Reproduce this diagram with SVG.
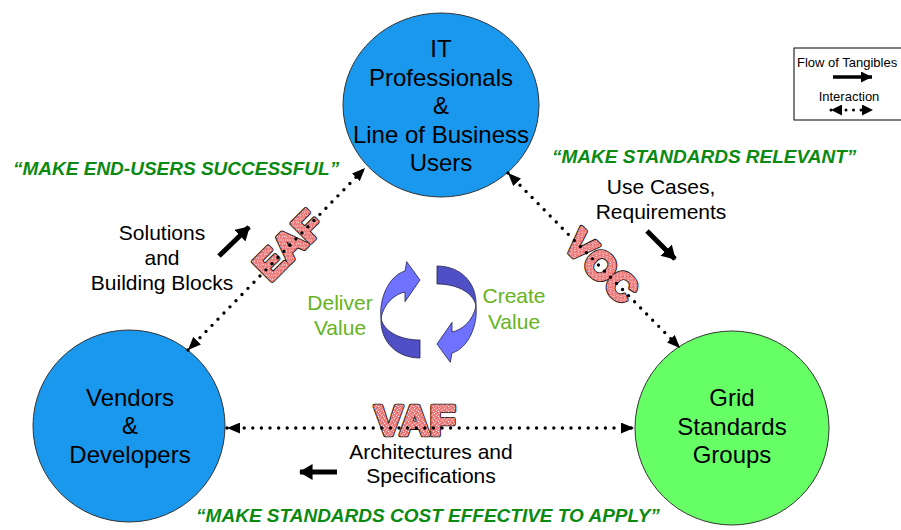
<svg xmlns="http://www.w3.org/2000/svg" width="901" height="530" viewBox="0 0 901 530">
<defs>
<style>
.node{stroke:#333;stroke-width:1}
.nt{font-family:"Liberation Sans",Arial,sans-serif;font-size:24px;fill:#000;text-anchor:middle}
.lbl{font-family:"Liberation Sans",Arial,sans-serif;font-size:21px;fill:#000;text-anchor:middle}
.val{font-family:"Liberation Sans",Arial,sans-serif;font-size:21px;fill:#66b31e;text-anchor:middle}
.quote{font-family:"Liberation Sans",Arial,sans-serif;font-size:19px;font-weight:bold;font-style:italic;fill:#0b8a12}
.bigo{font-family:"Liberation Sans",Arial,sans-serif;font-weight:bold;fill:#111;stroke:#111;stroke-width:4.6;stroke-linejoin:round;text-anchor:middle}
.big{font-family:"Liberation Sans",Arial,sans-serif;font-weight:bold;fill:url(#speck);stroke:url(#speck);stroke-width:2.8;stroke-linejoin:round;text-anchor:middle}
.dot{fill:none;stroke:#000;stroke-width:3.4;stroke-linecap:round;stroke-dasharray:0 8.6}
.flow{fill:none;stroke:#000;stroke-width:5}
.leg{font-family:"Liberation Sans",Arial,sans-serif;font-size:13px;fill:#000}
.cyl{fill:#6f72ff;stroke:#22224a;stroke-width:0.8}
.cyd{fill:#5050c6;stroke:#22224a;stroke-width:0.8}
</style>
<pattern id="speck" width="5" height="5" patternUnits="userSpaceOnUse">
<rect width="5" height="5" fill="#ec7a7a"/>
<rect x="1" y="0" width="1" height="1" fill="#fbd0d0"/>
<rect x="3" y="1" width="1" height="1" fill="#fff"/>
<rect x="0" y="2" width="1" height="1" fill="#f8b8b8"/>
<rect x="4" y="3" width="1" height="1" fill="#fde4e4"/>
<rect x="2" y="4" width="1" height="1" fill="#f9c4c4"/>
<rect x="2" y="2" width="1" height="1" fill="#e26a6a"/>
</pattern>
<marker id="ah" viewBox="0 0 12 10" refX="12" refY="5" markerWidth="13" markerHeight="11" markerUnits="userSpaceOnUse" orient="auto-start-reverse">
<path d="M0,0 L12,5 L0,10 Z" fill="#000"/>
</marker>
<marker id="fh" viewBox="0 0 12 14" refX="11" refY="7" markerWidth="14" markerHeight="16" markerUnits="userSpaceOnUse" orient="auto">
<path d="M0,0 L12,7 L0,14 Z" fill="#000"/>
</marker>
<marker id="lh" viewBox="0 0 10 10" refX="10" refY="5" markerWidth="11" markerHeight="11" markerUnits="userSpaceOnUse" orient="auto-start-reverse">
<path d="M0,0 L10,5 L0,10 Z" fill="#000"/>
</marker>
</defs>
<rect width="901" height="530" fill="#fff"/>

<g id="node-it">
<ellipse class="node" cx="441" cy="105" rx="98" ry="92" fill="#1a98ee"/>
<text class="nt" x="441" y="57">IT</text>
<text class="nt" x="441" y="86">Professionals</text>
<text class="nt" x="441" y="114">&amp;</text>
<text class="nt" x="441" y="143">Line of Business</text>
<text class="nt" x="441" y="171">Users</text>
</g>
<g id="node-vendors">
<circle class="node" cx="129" cy="426" r="96" fill="#1a98ee"/>
<text class="nt" x="130" y="406">Vendors</text>
<text class="nt" x="130" y="434">&amp;</text>
<text class="nt" x="130" y="463">Developers</text>
</g>
<g id="node-grid">
<circle class="node" cx="732" cy="428" r="97" fill="#66ff66"/>
<text class="nt" x="732" y="406">Grid</text>
<text class="nt" x="732" y="435">Standards</text>
<text class="nt" x="732" y="463">Groups</text>
</g>

<g id="framework-labels">
<g transform="translate(288,245) rotate(-45)">
<text class="bigo" font-size="39" x="0" y="14">EAF</text>
<text class="big" font-size="39" x="0" y="14">EAF</text>
</g>
<g transform="translate(602,266) rotate(45)">
<text class="bigo" font-size="39" x="0" y="14">VOC</text>
<text class="big" font-size="39" x="0" y="14">VOC</text>
</g>
<text class="bigo" font-size="42" x="415" y="435">VAF</text>
<text class="big" font-size="42" x="415" y="435">VAF</text>
</g>

<g id="connectors">
<line class="dot" x1="188" y1="350" x2="365" y2="168" marker-start="url(#ah)" marker-end="url(#ah)"/>
<line class="dot" x1="508" y1="173" x2="680" y2="348" marker-start="url(#ah)" marker-end="url(#ah)"/>
<line class="dot" x1="227" y1="428" x2="634" y2="428" marker-start="url(#ah)" marker-end="url(#ah)"/>
<line class="flow" x1="219" y1="256" x2="249" y2="227" marker-end="url(#fh)"/>
<line class="flow" x1="647" y1="231" x2="675" y2="259" marker-end="url(#fh)"/>
<line class="flow" x1="337" y1="472" x2="300" y2="472" marker-end="url(#fh)"/>
</g>

<g id="labels">
<text class="quote" x="13" y="175">“MAKE END-USERS SUCCESSFUL”</text>
<text class="quote" x="552" y="163">“MAKE STANDARDS RELEVANT”</text>
<text class="quote" x="428" y="522" text-anchor="middle">“MAKE STANDARDS COST EFFECTIVE TO APPLY”</text>
<text class="lbl" x="162" y="240">Solutions</text>
<text class="lbl" x="162" y="265">and</text>
<text class="lbl" x="162" y="290">Building Blocks</text>
<text class="lbl" x="661" y="194">Use Cases,</text>
<text class="lbl" x="661" y="219">Requirements</text>
<text class="lbl" x="431" y="459">Architectures and</text>
<text class="lbl" x="431" y="483">Specifications</text>
<text class="val" x="340" y="310">Deliver</text>
<text class="val" x="340" y="335">Value</text>
<text class="val" x="514" y="303">Create</text>
<text class="val" x="514" y="329">Value</text>
</g>

<g id="cycle">
<g id="cycle-left">
<path class="cyl" d="M405,271 L406.7,261.7 L420,280 L405,301.7 L405,292 C395,294 384,303 381,318 C379,300 388,276 405,271 Z"/>
<path class="cyd" d="M381,318 C383,330 398,340 420,340 L420,358 C397,358 380,342 381,318 Z"/>
</g>
<g id="cycle-right" transform="rotate(180 428.5 312)">
<path class="cyl" d="M405,271 L406.7,261.7 L420,280 L405,301.7 L405,292 C395,294 384,303 381,318 C379,300 388,276 405,271 Z"/>
<path class="cyd" d="M381,318 C383,330 398,340 420,340 L420,358 C397,358 380,342 381,318 Z"/>
</g>
</g>

<g id="legend">
<rect x="794" y="48" width="120" height="72" fill="#fff" stroke="#000" stroke-width="1"/>
<text class="leg" x="797" y="67">Flow of Tangibles</text>
<line x1="833" y1="77" x2="872" y2="77" stroke="#000" stroke-width="3.5" marker-end="url(#lh)"/>
<text class="leg" x="849" y="101" text-anchor="middle">Interaction</text>
<line x1="831" y1="110" x2="873" y2="110" stroke="#000" stroke-width="3" stroke-linecap="round" stroke-dasharray="0 7.5" marker-start="url(#lh)" marker-end="url(#lh)"/>
</g>
</svg>
